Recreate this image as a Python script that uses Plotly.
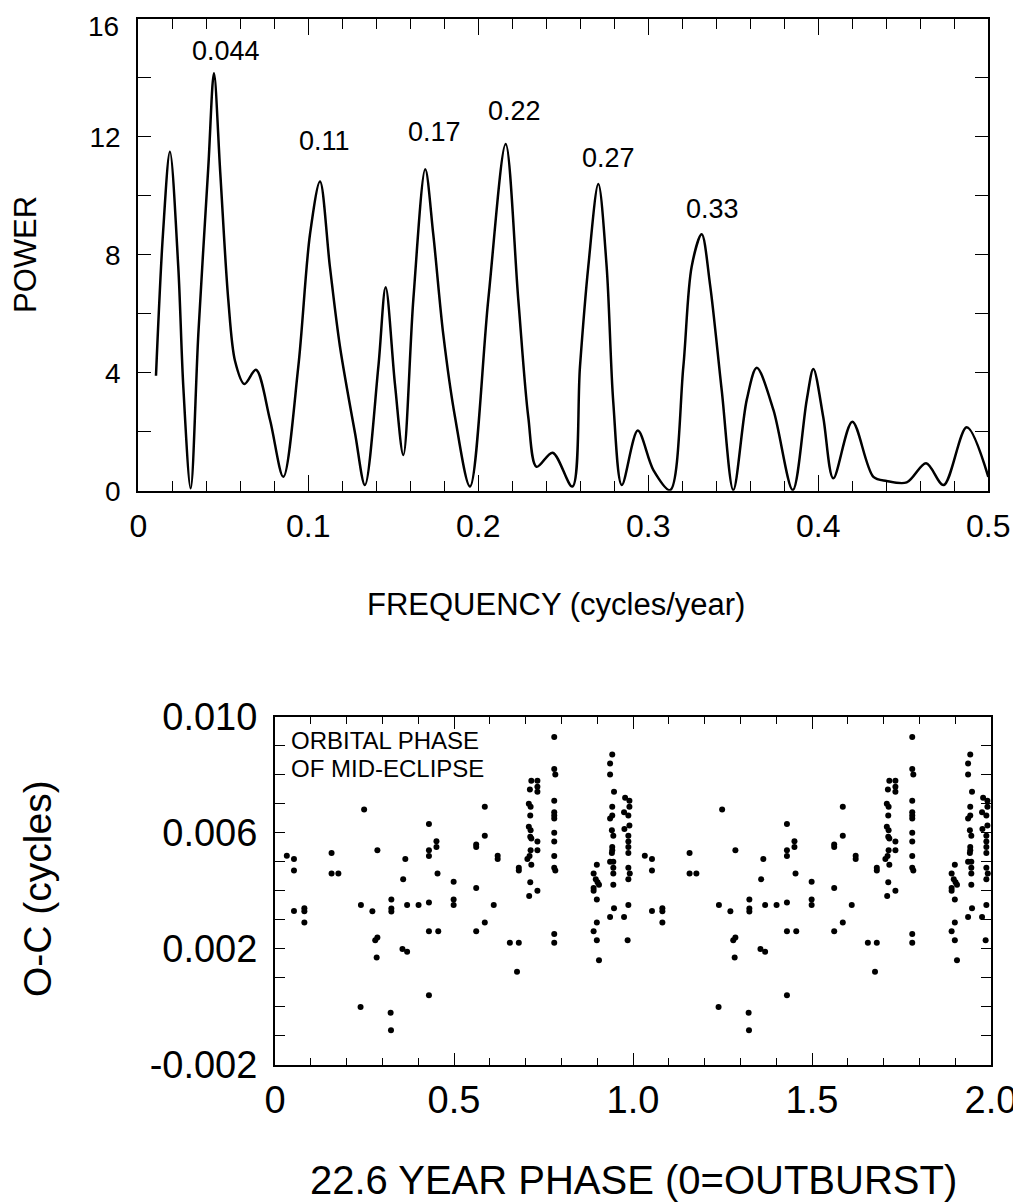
import plotly.graph_objects as go

# ---------------- data: power spectrum (top panel) ----------------
freq = [0.0104, 0.0145, 0.0186, 0.0235, 0.0265, 0.0308, 0.0353, 0.0412, 0.0445, 0.0482,
        0.0529, 0.0569, 0.0624, 0.0692, 0.0775, 0.0853, 0.0941, 0.1010, 0.1069, 0.1127,
        0.1186, 0.1275, 0.1333, 0.1412, 0.1455, 0.1510, 0.1559, 0.1618, 0.1688, 0.1735,
        0.1794, 0.1863, 0.1951, 0.2059, 0.2161, 0.2235, 0.2294, 0.2343, 0.2437, 0.2553,
        0.2598, 0.2647, 0.2706, 0.2755, 0.2794, 0.2844, 0.2938, 0.3030, 0.3128, 0.3206,
        0.3255, 0.3314, 0.3363, 0.3432, 0.3500, 0.3579, 0.3638, 0.3736, 0.3850, 0.3932,
        0.3971, 0.4029, 0.4088, 0.4200, 0.4324, 0.4402, 0.4520, 0.4634, 0.4737, 0.4873,
        0.5000]
power = [3.9, 8.7, 11.5, 7.6, 3.5, 0.08, 5.3, 11.0, 14.16, 10.8,
         6.5, 4.4, 3.62, 4.1, 2.4, 0.47, 4.2, 8.7, 10.49, 7.6,
         4.9, 1.95, 0.19, 4.2, 6.9, 3.6, 1.21, 6.5, 10.9, 8.7,
         5.3, 2.5, 0.14, 6.5, 11.76, 6.5, 2.5, 0.81, 1.29, 0.14,
         4.2, 7.6, 10.4, 7.6, 3.0, 0.19, 2.04, 0.70, 0.02, 4.2,
         7.6, 8.7, 7.0, 3.4, 0.02, 3.08, 4.17, 2.74, 0.02, 3.08,
         4.13, 2.5, 0.42, 2.34, 0.47, 0.33, 0.28, 0.93, 0.19, 2.15,
         0.47]
peak_labels = ["0.044", "0.11", "0.17", "0.22", "0.27", "0.33"]
freq_ticks = [0, 0.1, 0.2, 0.3, 0.4, 0.5]
power_ticks = [0, 4, 8, 12, 16]
power_ticktext = ["0", "4", "8", "12", ""]   # "16" is drawn as a separate label below
power_top_label = "16"

# ---------------- data: O-C vs 22.6 yr phase (bottom panel) ----------------
phase = [0.033, 0.053, 0.053, 0.053, 0.082, 0.082, 0.082, 0.158, 0.158, 0.177,
         0.249, 0.240, 0.239, 0.272, 0.286, 0.280, 0.286, 0.284, 0.325, 0.325,
         0.325, 0.323, 0.324, 0.358, 0.364, 0.369, 0.356, 0.369, 0.401, 0.430,
         0.430, 0.430, 0.430, 0.430, 0.430, 0.451, 0.451, 0.454, 0.456, 0.499,
         0.499, 0.499, 0.562, 0.562, 0.562, 0.562, 0.586, 0.586, 0.586, 0.611,
         0.622, 0.622, 0.656, 0.681, 0.676, 0.681, 0.681, 0.712, 0.716, 0.733,
         0.733, 0.733, 0.709, 0.714, 0.713, 0.709, 0.714, 0.713, 0.716, 0.733,
         0.714, 0.733, 0.711, 0.705, 0.716, 0.713, 0.733, 0.710, 0.780, 0.780,
         0.783, 0.780, 0.780, 0.780, 0.780, 0.780, 0.780, 0.780, 0.780, 0.783,
         0.780, 0.780, 0.899, 0.890, 0.896, 0.901, 0.905, 0.890, 0.890, 0.899,
         0.899, 0.890, 0.899, 0.905, 0.942, 0.936, 0.936, 0.947, 0.942, 0.942,
         0.936, 0.941, 0.945, 0.942, 0.942, 0.941, 0.936, 0.945, 0.945, 0.945,
         0.945, 0.947, 0.936, 0.978, 0.990, 0.990, 0.975, 0.987, 0.990, 0.976,
         0.987, 0.987, 0.987, 0.987, 0.987, 0.991, 0.987, 0.987, 0.975, 0.985]
o_minus_c = [0.00521, 0.00510, 0.00470, 0.00331, 0.00340, 0.00330, 0.00291, 0.00530, 0.00460, 0.00460,
             0.00680, 0.00351, 0.00000, 0.00330, 0.00540, 0.00230, 0.00239, 0.00170, 0.00370, 0.00339,
             0.00329, -0.00020, -0.00080, 0.00440, 0.00510, 0.00351, 0.00200, 0.00190, 0.00351, 0.00630,
             0.00540, 0.00520, 0.00360, 0.00261, 0.00040, 0.00571, 0.00551, 0.00460, 0.00261, 0.00431,
             0.00370, 0.00351, 0.00560, 0.00551, 0.00410, 0.00261, 0.00690, 0.00590, 0.00291, 0.00351,
             0.00521, 0.00510, 0.00221, 0.00221, 0.00121, 0.00480, 0.00470, 0.00749, 0.00779, 0.00779,
             0.00759, 0.00741, 0.00700, 0.00690, 0.00660, 0.00621, 0.00609, 0.00586, 0.00580, 0.00570,
             0.00540, 0.00540, 0.00520, 0.00510, 0.00490, 0.00430, 0.00400, 0.00382, 0.00930, 0.00820,
             0.00801, 0.00710, 0.00671, 0.00660, 0.00649, 0.00600, 0.00570, 0.00520, 0.00480, 0.00470,
             0.00251, 0.00221, 0.00490, 0.00460, 0.00440, 0.00430, 0.00421, 0.00410, 0.00400, 0.00370,
             0.00291, 0.00261, 0.00230, 0.00161, 0.00870, 0.00839, 0.00801, 0.00741, 0.00690, 0.00660,
             0.00649, 0.00609, 0.00590, 0.00551, 0.00540, 0.00530, 0.00500, 0.00500, 0.00480, 0.00460,
             0.00421, 0.00340, 0.00310, 0.00721, 0.00710, 0.00690, 0.00671, 0.00660, 0.00625, 0.00613,
             0.00590, 0.00570, 0.00551, 0.00530, 0.00480, 0.00460, 0.00440, 0.00351, 0.00310, 0.00230]
cycles = [0, 1]  # the phase-folded data is plotted over two cycles
phase_ticks = [0, 0.5, 1.0, 1.5, 2.0]
phase_ticktext = ["0", "0.5", "1.0", "1.5", "2.0"]
oc_ticks = [-0.002, 0.002, 0.006, 0.010]
oc_ticktext = ["-0.002", "0.002", "0.006", "0.010"]

# ---------------- layout geometry (page pixels -> paper fractions) ----------------
# The page body has an 8 px margin, so the figure is offset by it.
OFF = 8
W, H = 1021 - OFF, 1204 - OFF
FONT = "Liberation Sans, Arial, sans-serif"


def px(x):
    return (x - OFF) / W


def py(y):
    return 1 - (y - OFF) / H


fig = go.Figure()

fig.add_trace(go.Scatter(
    x=freq, y=power, mode="lines",
    line=dict(color="black", width=2.5, shape="spline", smoothing=0.9),
    xaxis="x", yaxis="y", showlegend=False, hoverinfo="skip"))

xs, ys = [], []
for c in cycles:
    xs += [p + c for p in phase]
    ys += o_minus_c
fig.add_trace(go.Scatter(
    x=xs, y=ys, mode="markers",
    marker=dict(color="black", size=6, line=dict(width=0)),
    xaxis="x2", yaxis="y2", showlegend=False, cliponaxis=False))

axis_common = dict(showgrid=False, zeroline=False, showline=True, linecolor="black",
                   linewidth=2, mirror="ticks", ticks="inside", tickcolor="black",
                   tickwidth=1.3, automargin=False, ticklabeloverflow="allow")

fig.update_layout(
    width=W, height=H,
    margin=dict(l=0, r=0, t=0, b=0),
    paper_bgcolor="white", plot_bgcolor="white",
    font=dict(family=FONT, color="black"),
    xaxis=dict(domain=[px(138.3), px(988.3)], range=[0, 0.5], anchor="y",
               tickmode="array", tickvals=freq_ticks,
               ticktext=[("%g" % v) for v in freq_ticks],
               ticklen=16, tickfont=dict(size=32), ticklabelstandoff=6,
               minor=dict(dtick=0.02, tick0=0, ticklen=10, ticks="inside",
                          tickcolor="black", tickwidth=1.3, showgrid=False),
               **axis_common),
    yaxis=dict(domain=[py(490.7), py(19)], range=[0, 16], anchor="x",
               tickmode="array", tickvals=power_ticks, ticktext=power_ticktext,
               ticklen=13, tickfont=dict(size=28), ticklabelstandoff=10,
               minor=dict(dtick=2, tick0=0, ticklen=13, ticks="inside",
                          tickcolor="black", tickwidth=1.3, showgrid=False),
               **axis_common),
    xaxis2=dict(domain=[px(275), px(991)], range=[0, 2], anchor="y2",
                tickmode="array", tickvals=phase_ticks, ticktext=phase_ticktext,
                ticklen=12, tickfont=dict(size=38), ticklabelstandoff=0,
                minor=dict(tickmode="linear", dtick=0.1, tick0=0, ticklen=7, ticks="inside",
                           tickcolor="black", tickwidth=1.3, showgrid=False),
                **axis_common),
    yaxis2=dict(domain=[py(1065), py(716.7)], range=[-0.002, 0.010], anchor="x2",
                tickmode="array", tickvals=oc_ticks, ticktext=oc_ticktext,
                ticklen=10, tickfont=dict(size=38), ticklabelstandoff=8,
                minor=dict(tickmode="linear", dtick=0.001, tick0=-0.002, ticklen=10,
                           ticks="inside", tickcolor="black", tickwidth=1.3, showgrid=False),
                **axis_common),
)

annotations = []
# peak labels (data coordinates of label centres)
label_pos = [(0.0516, 14.92), (0.1098, 11.86), (0.1744, 12.17),
             (0.2214, 12.88), (0.2765, 11.30), (0.3375, 9.57)]
for txt, (lx, ly) in zip(peak_labels, label_pos):
    annotations.append(dict(x=lx, y=ly, xref="x", yref="y", text=txt, showarrow=False,
                            font=dict(size=27), xanchor="center", yanchor="middle"))

# top y tick label kept inside the page
annotations.append(dict(x=px(121), y=py(9), xref="paper", yref="paper", text=power_top_label,
                        showarrow=False, font=dict(size=28), xanchor="right", yanchor="top"))

# axis titles and inset text
annotations += [
    dict(x=px(25), y=py(255), xref="paper", yref="paper", text="POWER", textangle=-90,
         showarrow=False, font=dict(size=31), xanchor="center", yanchor="middle"),
    dict(x=px(556), y=py(605), xref="paper", yref="paper", text="FREQUENCY (cycles/year)",
         showarrow=False, font=dict(size=31), xanchor="center", yanchor="middle"),
    dict(x=px(37), y=py(889), xref="paper", yref="paper", text="O-C (cycles)", textangle=-90,
         showarrow=False, font=dict(size=39), xanchor="center", yanchor="middle"),
    dict(x=px(633), y=py(1180), xref="paper", yref="paper", text="22.6 YEAR PHASE (0=OUTBURST)",
         showarrow=False, font=dict(size=40), xanchor="center", yanchor="middle"),
    dict(x=px(289), y=py(740), xref="paper", yref="paper", text="ORBITAL PHASE",
         showarrow=False, font=dict(size=24), xanchor="left", yanchor="middle"),
    dict(x=px(289), y=py(768), xref="paper", yref="paper", text="OF MID-ECLIPSE",
         showarrow=False, font=dict(size=24), xanchor="left", yanchor="middle"),
]
fig.update_layout(annotations=annotations)

fig.write_html("out.html")
